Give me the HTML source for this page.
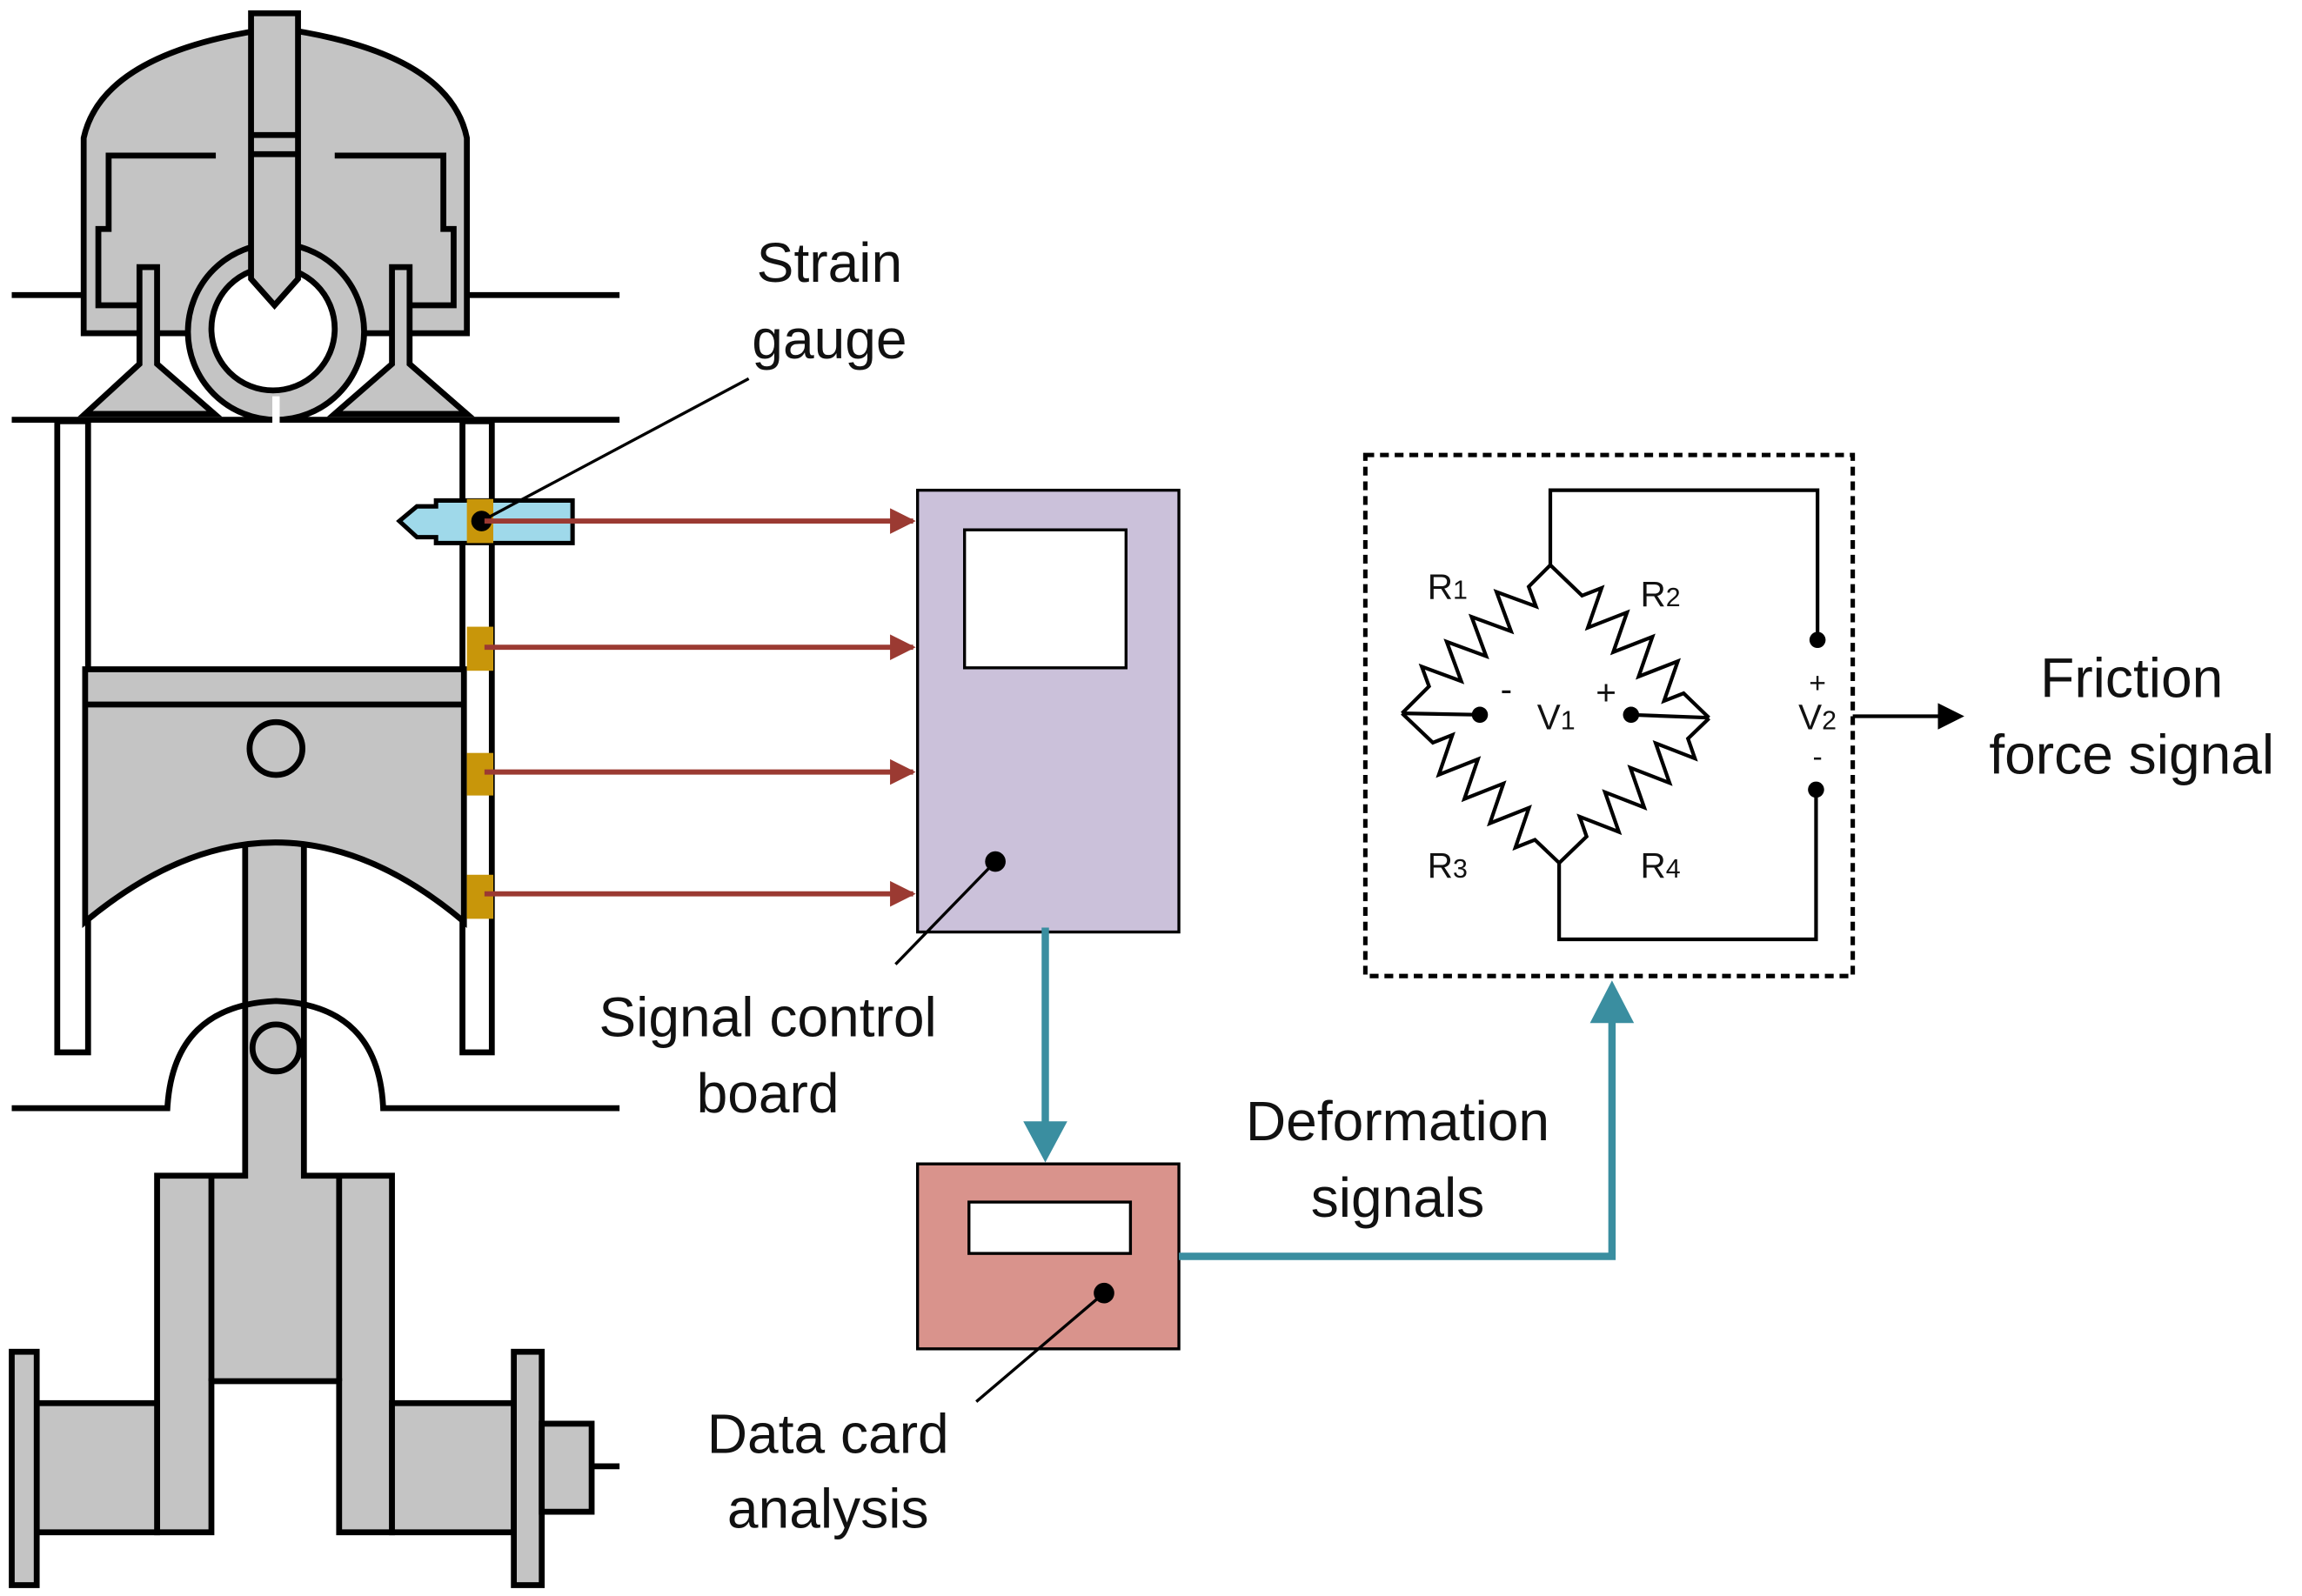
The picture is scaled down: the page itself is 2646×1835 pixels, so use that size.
<!DOCTYPE html>
<html><head><meta charset="utf-8"><style>
html,body{margin:0;padding:0;background:#fff}
svg{display:block}
</style></head><body>
<svg width="2646" height="1835" viewBox="0 0 1568 1087.4" preserveAspectRatio="none" xmlns="http://www.w3.org/2000/svg" font-family="'Liberation Sans', Arial, sans-serif">
<defs>
<marker id="ar" viewBox="0 0 10 10" refX="9" refY="5" markerWidth="5" markerHeight="5" orient="auto" markerUnits="strokeWidth"><path d="M0 0L10 5L0 10z" fill="#9b3a32"/></marker>
</defs>
<g stroke="#000" stroke-width="4" fill="#c4c4c4" stroke-linejoin="miter">
<line x1="8" y1="201" x2="57" y2="201"/><line x1="318" y1="201" x2="422" y2="201"/>
<line x1="8" y1="286" x2="422" y2="286"/>
<path d="M57,227 V94 Q70,35 188,19 Q306,35 318,94 V227 Z"/>
<path d="M147,106 H74 V156 H67 V208 H95 M228,106 H302 V156 H309 V208 H279" fill="none"/>
<path d="M95,182 H107 V248 L146,282 H58 L95,248 Z"/>
<path d="M267,182 H279 V248 L318,282 H228 L267,248 Z"/>
<circle cx="188" cy="226" r="60"/>
<circle cx="186" cy="224" r="42" fill="#fff"/>
<line x1="188" y1="270" x2="188" y2="288" stroke="#fff" stroke-width="5"/>
<path d="M171,9 H203 V190 L187,208 L171,190 Z"/>
<line x1="171" y1="92" x2="203" y2="92"/><line x1="171" y1="105" x2="203" y2="105"/>
<rect x="39" y="287" width="21" height="430" fill="#fff"/>
<rect x="315" y="287" width="20" height="430" fill="#fff"/>
<path d="M107,801 H167 V562 H207 V801 H267 V1044 H231 V941 H144 V1044 H107 Z"/>
<line x1="144" y1="801" x2="144" y2="941"/><line x1="231" y1="801" x2="231" y2="941"/>
<path d="M58,456 H316 V628 Q188,520 58,628 Z"/>
<line x1="58" y1="480" x2="316" y2="480"/>
<circle cx="188" cy="510" r="18" fill="#c4c4c4"/>
<path d="M8,755 H114 Q118,685 188,682 Q258,685 261,755 H422" fill="none"/>
<circle cx="188" cy="714" r="16"/>
<rect x="25" y="956" width="82" height="88"/>
<rect x="267" y="956" width="83" height="88"/>
<rect x="8" y="921" width="17" height="159"/>
<rect x="350" y="921" width="19" height="159"/>
<rect x="369" y="970" width="34" height="60"/>
<line x1="403" y1="999" x2="422" y2="999"/>
</g>
<g fill="#c8960a">
<rect x="318" y="427" width="18" height="30"/><rect x="318" y="513" width="18" height="29"/><rect x="318" y="596" width="18" height="30"/>
</g>
<path d="M272,355 L284,345 H297 V341 H390 V370 H297 V366 H284 Z" fill="#9fd9ea" stroke="#000" stroke-width="3"/>
<rect x="318" y="340" width="18" height="30" fill="#c8960a"/>
<circle cx="328" cy="355" r="7" fill="#000"/>
<line x1="328" y1="355" x2="510" y2="258" stroke="#000" stroke-width="2"/>
<g stroke="#9b3a32" stroke-width="3.5" marker-end="url(#ar)">
<line x1="330" y1="355" x2="622" y2="355"/><line x1="330" y1="441" x2="622" y2="441"/>
<line x1="330" y1="526" x2="622" y2="526"/><line x1="330" y1="609" x2="622" y2="609"/>
</g>
<rect x="625" y="334" width="178" height="301" fill="#cbc1da" stroke="#000" stroke-width="2"/>
<rect x="657" y="361" width="110" height="94" fill="#fff" stroke="#000" stroke-width="2"/>
<circle cx="678" cy="587" r="7" fill="#000"/>
<line x1="678" y1="587" x2="610" y2="657" stroke="#000" stroke-width="2"/>
<rect x="625" y="793" width="178" height="126" fill="#d9938c" stroke="#000" stroke-width="2"/>
<rect x="660" y="819" width="110" height="35" fill="#fff" stroke="#000" stroke-width="2"/>
<circle cx="752" cy="881" r="7" fill="#000"/>
<line x1="752" y1="881" x2="665" y2="955" stroke="#000" stroke-width="2"/>
<g stroke="#3a8ea0" stroke-width="5" fill="none">
<line x1="712" y1="632" x2="712" y2="772"/>
<polyline points="803,856 1098,856 1098,690"/>
</g>
<path d="M697,764 L712,792 L727,764 Z" fill="#3a8ea0"/>
<path d="M1083,697 L1098,668 L1113,697 Z" fill="#3a8ea0"/>
<rect x="930" y="310" width="332" height="355" fill="none" stroke="#000" stroke-width="3" stroke-dasharray="6,4"/>
<g stroke="#000" stroke-width="2.5" fill="none">
<polyline points="1056,385 1056,334 1238,334 1238,434"/>
<polyline points="1062,588 1062,640 1237,640 1237,539"/>
<line x1="955" y1="486" x2="1008" y2="487"/><line x1="1111" y1="487" x2="1164" y2="489"/>
<path d="M0 0L26 0l6 -13l12 26l12 -26l12 26l12 -26l12 26l12 -26l12 26l6 -13L143 0" transform="translate(955,486) rotate(-45)"/>
<path d="M0 0L30 0l6 -13l12 26l12 -26l12 26l12 -26l12 26l12 -26l12 26l6 -13L150 0" transform="translate(1056,385) rotate(43.9)"/>
<path d="M0 0L29 0l6 -13l12 26l12 -26l12 26l12 -26l12 26l12 -26l12 26l6 -13L148 0" transform="translate(955,486) rotate(43.6)"/>
<path d="M0 0L26 0l6 -13l12 26l12 -26l12 26l12 -26l12 26l12 -26l12 26l6 -13L142 0" transform="translate(1062,588) rotate(-44)"/>
</g>
<g fill="#000">
<circle cx="1008" cy="487" r="5.5"/><circle cx="1111" cy="487" r="5.5"/>
<circle cx="1238" cy="436" r="5.5"/><circle cx="1237" cy="538" r="5.5"/>
</g>
<g font-size="24" text-anchor="middle" fill="#111">
<text x="986" y="408">R<tspan font-size="18">1</tspan></text>
<text x="1131" y="413">R<tspan font-size="18">2</tspan></text>
<text x="986" y="598">R<tspan font-size="18">3</tspan></text>
<text x="1131" y="598">R<tspan font-size="18">4</tspan></text>
<text x="1060" y="497">V<tspan font-size="18">1</tspan></text>
<text x="1238" y="497">V<tspan font-size="18">2</tspan></text>
<text x="1026" y="478">-</text><text x="1094" y="480">+</text>
<text x="1238" y="472" font-size="20">+</text><text x="1238" y="522" font-size="20">-</text>
</g>
<line x1="1262" y1="488" x2="1325" y2="488" stroke="#000" stroke-width="2.5"/>
<path d="M1320,479 L1338,488 L1320,497 Z" fill="#000"/>
<g font-size="38" text-anchor="middle" fill="#111">
<text x="565" y="192">Strain</text><text x="565" y="244">gauge</text>
<text x="523" y="706">Signal control</text><text x="523" y="758">board</text>
<text x="952" y="777">Deformation</text><text x="952" y="829">signals</text>
<text x="564" y="990">Data card</text><text x="564" y="1041">analysis</text>
<text x="1452" y="475">Friction</text><text x="1452" y="527">force signal</text>
</g>
</svg>
</body></html>
